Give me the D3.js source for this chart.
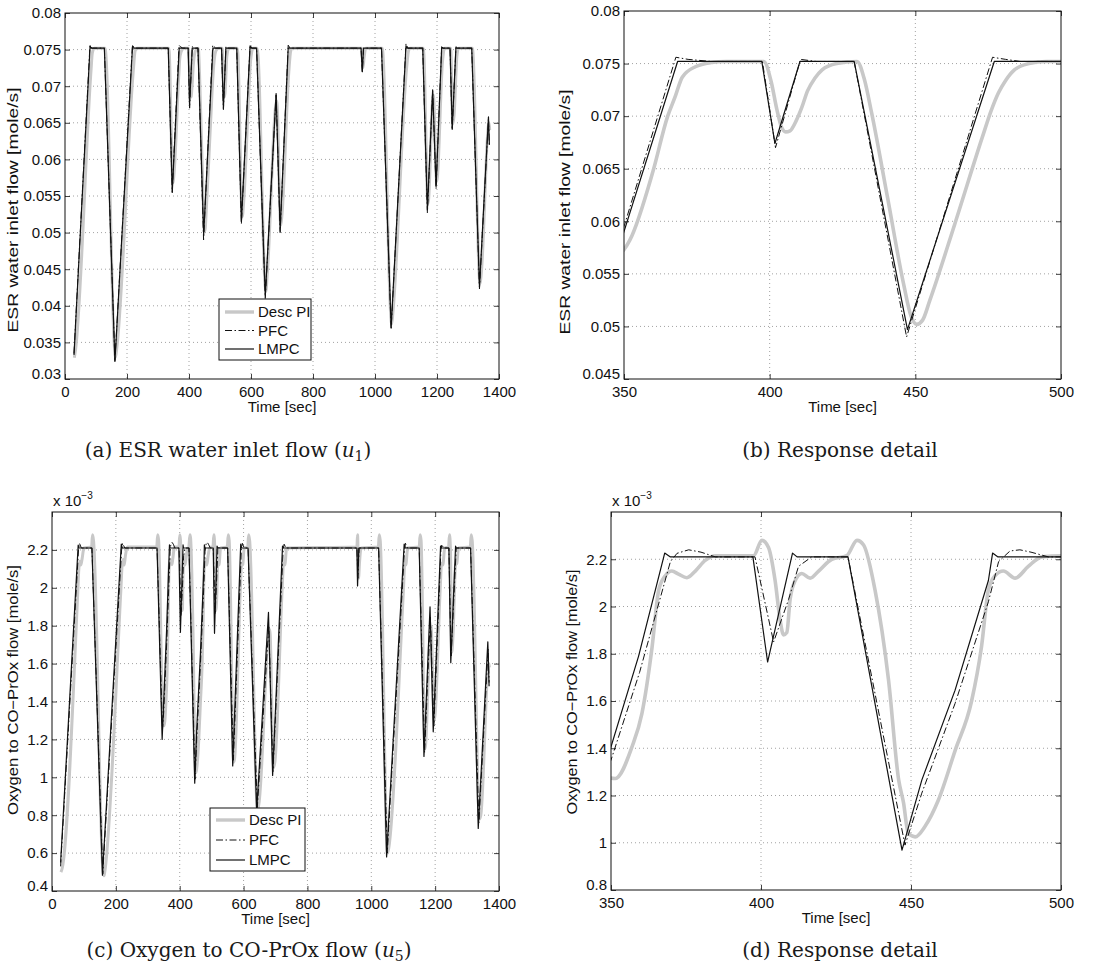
<!DOCTYPE html>
<html>
<head>
<meta charset="utf-8">
<script src="https://cdn.jsdelivr.net/npm/d3@7/dist/d3.min.js"></script>
<style>
  html, body { margin: 0; padding: 0; background: #fff; }
  svg { display: block; }
  .tick text { font-family: "Liberation Sans", Arial, sans-serif; font-size: 15px; fill: #111; }
</style>
</head>
<body>
<svg id="fig" width="1115" height="977"></svg>
<script>
// ---------- ESR water inlet flow u1 [mole/s] ----------
const u1DescPI = [
  [30,0.0329],[34,0.0340],[84,0.0722],[88,0.0745],[94,0.0752],[129,0.0752],[163,0.0330],[167,0.0342],
  [221,0.0725],[226,0.0748],[232,0.0752],[335,0.0752],[348,0.0568],[350,0.0573],[352,0.0582],[360,0.0648],
  [365,0.0700],[367.5,0.0718],[370,0.0737],[374.5,0.0747],[380,0.0751],[385,0.0752],[398,0.0752],
  [400.5,0.0733],[402.5,0.0706],[404,0.0690],[405.5,0.0685],[407,0.0686],[409,0.0695],[411,0.0708],
  [413,0.0724],[415.5,0.0736],[418,0.0744],[423,0.0750],[430,0.0752],[432.5,0.0735],[435,0.0703],
  [440.5,0.0622],[446,0.0540],[448.5,0.0510],[450.5,0.0502],[452.5,0.0506],[455,0.0525],[463.5,0.0597],
  [473,0.0680],[476,0.0705],[478.5,0.0722],[481,0.0734],[484,0.0744],[489,0.0750],[495,0.0752],
  [507,0.0752],[513,0.0685],[516,0.0690],[522,0.0740],[528,0.0752],[556,0.0752],[572,0.0522],[576,0.0540],
  [600,0.0740],[606,0.0752],[620,0.0752],[648,0.0420],[652,0.0440],[683,0.0680],[696,0.0510],[700,0.0525],
  [722,0.0720],[728,0.0748],[733,0.0752],[957,0.0752],[961,0.0725],[965,0.0740],[970,0.0752],[1023,0.0752],
  [1054,0.0375],[1058,0.0392],[1102,0.0725],[1108,0.0748],[1113,0.0752],[1156,0.0752],[1171,0.0540],
  [1188,0.0688],[1199,0.0570],[1218,0.0735],[1224,0.0752],[1244,0.0752],[1251,0.0648],[1255,0.0660],
  [1264,0.0740],[1269,0.0752],[1314,0.0752],[1339,0.0430],[1343,0.0445],[1368,0.0650],[1370,0.0640]
];
const u1PFC = [
  [29,0.0335],[80,0.0752],[81,0.0756],[86,0.0752],[127,0.0752],[161,0.0325],[217,0.0752],[218,0.0756],
  [224,0.0752],[333,0.0752],[346,0.0555],[350,0.0595],[367.8,0.0756],[372,0.0754],[380,0.0752],
  [397.5,0.0752],[402,0.0670],[410.6,0.0754],[416,0.0752],[429,0.0752],[447,0.0490],[476.5,0.0756],
  [481,0.0754],[486,0.0752],[505,0.0752],[511,0.0668],[519,0.0754],[524,0.0752],[554,0.0752],[569,0.0512],
  [597,0.0756],[603,0.0752],[618,0.0752],[646,0.0410],[681,0.0688],[694,0.0500],[720,0.0756],[726,0.0752],
  [955,0.0752],[959,0.0718],[963,0.0752],[1021,0.0752],[1052,0.0368],[1100,0.0758],[1106,0.0752],
  [1154,0.0752],[1169,0.0527],[1186,0.0693],[1197,0.0560],[1215,0.0754],[1220,0.0752],[1242,0.0752],
  [1249,0.0640],[1261,0.0754],[1266,0.0752],[1312,0.0752],[1337,0.0423],[1366,0.0656],[1369,0.0618]
];
const u1LMPC = [
  [29,0.0333],[81,0.0755],[84,0.0752],[127,0.0752],[161,0.0324],[218,0.0755],[221,0.0752],[333,0.0752],
  [346,0.0555],[368.4,0.0752],[397.3,0.0752],[401.8,0.0674],[410.4,0.0752],[429,0.0752],[447.3,0.0497],
  [477.1,0.0752],[505,0.0752],[511,0.0670],[519,0.0752],[554,0.0752],[569,0.0515],[597,0.0755],
  [600,0.0752],[618,0.0752],[646,0.0413],[681,0.0690],[694,0.0503],[720,0.0752],[955,0.0752],
  [959,0.0720],[963,0.0752],[1021,0.0752],[1052,0.0370],[1100,0.0755],[1103,0.0752],[1154,0.0752],
  [1169,0.0531],[1186,0.0695],[1197,0.0563],[1215,0.0752],[1242,0.0752],[1249,0.0642],[1261,0.0752],
  [1312,0.0752],[1337,0.0426],[1366,0.0658],[1369,0.0620]
];

// ---------- Oxygen to CO-PrOx flow u5 [x 10^-3 mole/s] ----------
const u5DescPI = [
  [28,0.50],[32,0.52],[80,1.95],[84,2.10],[87,2.14],[90,2.12],[94,2.15],[100,2.21],[124,2.215],[127,2.28],
  [130,2.25],[160,0.50],[163,0.48],[166,0.51],[216,2.0],[220,2.13],[223,2.15],[226,2.12],[230,2.17],
  [236,2.215],[328,2.215],[331,2.28],[334,2.25],[348,1.28],[351.4,1.272],[357,1.406],[360.3,1.547],
  [363.7,1.829],[365.9,2.069],[368.1,2.13],[370.3,2.15],[372.5,2.137],[375.3,2.122],[378.1,2.15],
  [381.4,2.195],[384.8,2.215],[397.5,2.215],[400.3,2.28],[402.5,2.25],[404.7,2.11],[406.4,1.94],
  [407.5,1.88],[408.6,1.89],[409.7,2.03],[411.4,2.11],[413.6,2.14],[416.4,2.12],[419.2,2.15],[423.6,2.20],
  [428.6,2.215],[432,2.28],[434.2,2.26],[438,2.07],[442.5,1.69],[445.9,1.265],[447.5,1.17],[449.1,1.04],
  [451.4,1.025],[454.7,1.07],[459.1,1.18],[464.7,1.39],[470.2,1.6],[473.5,1.83],[475.8,2.07],[478,2.13],
  [480.8,2.15],[484.7,2.12],[489.1,2.17],[493.6,2.21],[500,2.215],[504,2.215],[507,2.28],[510,2.2],
  [513,1.88],[516,1.95],[519,2.13],[523,2.12],[528,2.21],[549,2.215],[552,2.28],[555,2.25],[569,1.08],
  [572,1.10],[590,2.0],[594,2.13],[597,2.12],[602,2.21],[613,2.215],[616,2.28],[619,2.25],[644,0.83],
  [648,0.86],[682,1.78],[694,1.05],[698,1.08],[721,2.0],[725,2.13],[729,2.12],[735,2.21],[955,2.215],
  [957,2.28],[960,2.05],[963,2.13],[968,2.21],[1022,2.215],[1025,2.28],[1028,2.25],[1051,0.60],
  [1055,0.63],[1101,2.0],[1105,2.13],[1108,2.12],[1114,2.21],[1150,2.215],[1153,2.28],[1156,2.25],
  [1168,1.15],[1187,1.80],[1197,1.30],[1216,2.0],[1220,2.13],[1224,2.12],[1230,2.21],[1242,2.215],
  [1245,2.28],[1248,2.2],[1252,1.66],[1256,1.75],[1264,2.12],[1268,2.13],[1273,2.21],[1310,2.215],
  [1313,2.28],[1316,2.25],[1339,0.78],[1343,0.80],[1368,1.60],[1370,1.58]
];
const u5PFC = [
  [27,0.53],[83,2.20],[86,2.235],[92,2.21],[125,2.21],[159,0.49],[218,2.20],[221,2.235],[228,2.21],
  [329,2.21],[346,1.25],[350,1.35],[359.5,1.72],[369.8,2.19],[372,2.225],[375.9,2.24],[380,2.23],
  [384.8,2.21],[398,2.21],[404.2,1.85],[409.2,2.03],[412.5,2.17],[416.9,2.21],[429,2.21],[448,0.99],
  [453.6,1.21],[464.7,1.59],[475.8,2.02],[479.2,2.19],[483,2.235],[486.3,2.24],[490,2.23],[495.8,2.21],
  [505,2.21],[511,1.86],[520,2.22],[524,2.21],[550,2.21],[568,1.09],[593,2.20],[596,2.235],[602,2.21],
  [614,2.21],[643,0.84],[679,1.80],[692,1.03],[724,2.20],[727,2.23],[733,2.21],[955,2.21],[958,2.05],
  [962,2.21],[1023,2.21],[1050,0.60],[1104,2.20],[1107,2.235],[1113,2.21],[1150,2.21],[1167,1.13],
  [1185,1.85],[1196,1.27],[1218,2.20],[1221,2.23],[1226,2.21],[1243,2.21],[1250,1.64],[1266,2.21],
  [1311,2.21],[1337,0.76],[1366,1.68],[1369,1.50]
];
const u5LMPC = [
  [27,0.55],[82,2.225],[84,2.21],[125,2.21],[158,0.483],[217,2.23],[220,2.21],[329,2.21],[345,1.20],
  [350,1.406],[359.2,1.79],[367.9,2.226],[369.8,2.21],[397.3,2.21],[402.2,1.765],[410.5,2.226],[412,2.21],
  [429,2.21],[447,0.969],[453.6,1.265],[464.7,1.646],[475.8,2.11],[477.2,2.226],[479,2.21],[505,2.21],
  [509,1.76],[517,2.22],[519,2.21],[550,2.21],[566,1.06],[591,2.23],[594,2.21],[614,2.21],[641,0.82],
  [678,1.87],[691,1.01],[722,2.22],[725,2.21],[955,2.21],[957,2.01],[961,2.21],[1023,2.21],[1048,0.58],
  [1103,2.23],[1106,2.21],[1150,2.21],[1165,1.11],[1184,1.90],[1194,1.24],[1217,2.22],[1220,2.21],
  [1243,2.21],[1249,1.605],[1264,2.22],[1266,2.21],[1311,2.21],[1335,0.73],[1365,1.715],[1369,1.48]
];

// ---------- axes ticks ----------
const xTicksFull = [0,200,400,600,800,1000,1200,1400];
const xTicksDetail = [350,400,450,500];
const yTicksA = [0.03,0.035,0.04,0.045,0.05,0.055,0.06,0.065,0.07,0.075,0.08];
const yTicksB = [0.045,0.05,0.055,0.06,0.065,0.07,0.075,0.08];
const yTicksC = [0.4,0.6,0.8,1,1.2,1.4,1.6,1.8,2,2.2];
const yTicksD = [0.8,1,1.2,1.4,1.6,1.8,2,2.2];
const seriesNames = ["Desc PI","PFC","LMPC"];

const svg = d3.select("#fig");
svg.append("rect").attr("width",1115).attr("height",977).attr("fill","#fff");

const SANS = '"Liberation Sans", Arial, sans-serif';
const SERIF = '"DejaVu Serif", "Liberation Serif", serif';

const styles = [
  {stroke:"#c8c8c8", width:3.4, dash:null},
  {stroke:"#111", width:1.0, dash:"7,2.5,1.5,2.5"},
  {stroke:"#111", width:1.2, dash:null}
];

let clipId = 0;
function drawPanel(p) {
  const g = svg.append("g");
  const x = d3.scaleLinear().domain(p.xDomain).range([p.left, p.right]);
  const y = d3.scaleLinear().domain(p.yDomain).range([p.bottom, p.top]);

  // dotted grid
  const gridStyle = sel => sel.attr("stroke","#8a8a8a").attr("stroke-width",0.8).attr("stroke-dasharray","1,3");
  g.selectAll(".gx").data(p.xTicks.filter(v => v > p.xDomain[0] && v < p.xDomain[1])).join("line")
    .attr("x1", d => x(d)).attr("x2", d => x(d)).attr("y1", p.top).attr("y2", p.bottom).call(gridStyle);
  g.selectAll(".gy").data(p.yTicks.filter(v => v > p.yDomain[0] && v < p.yDomain[1])).join("line")
    .attr("y1", d => y(d)).attr("y2", d => y(d)).attr("x1", p.left).attr("x2", p.right).call(gridStyle);

  // data lines, clipped to the plot box
  const cid = "clip" + (clipId++);
  svg.append("clipPath").attr("id", cid).append("rect")
    .attr("x", p.left).attr("y", p.top).attr("width", p.right - p.left).attr("height", p.bottom - p.top);
  const lines = g.append("g").attr("clip-path", `url(#${cid})`);
  p.series.forEach((s, i) => {
    const st = styles[i];
    const line = d3.line().x(d => x(d[0])).y(d => y(d[1]))
      .curve(i === 0 ? d3.curveMonotoneX : d3.curveLinear);
    lines.append("path").datum(s).attr("d", line).attr("fill","none")
      .attr("stroke", st.stroke).attr("stroke-width", i === 0 ? p.piWidth : st.width)
      .attr("stroke-linejoin","round").attr("stroke-dasharray", st.dash);
  });

  // axes with inward ticks on all four sides
  const tl = 5;
  g.append("g").attr("transform",`translate(0,${p.bottom})`)
    .call(d3.axisBottom(x).tickValues(p.xTicks).tickSize(-tl).tickPadding(7).tickFormat(d3.format("d")));
  const ay = g.append("g").attr("transform",`translate(${p.left},0)`)
    .call(d3.axisLeft(y).tickValues(p.yTicks).tickSize(-tl).tickPadding(4).tickFormat(d => String(+d.toFixed(4))));
  // the lowest y label sits just above the corner so it clears the first x label
  ay.selectAll(".tick text").filter(d => d === p.yDomain[0]).attr("y", -5);
  g.append("g").attr("transform",`translate(0,${p.top})`)
    .call(d3.axisTop(x).tickValues(p.xTicks).tickSize(-tl).tickFormat(""));
  g.append("g").attr("transform",`translate(${p.right},0)`)
    .call(d3.axisRight(y).tickValues(p.yTicks).tickSize(-tl).tickFormat(""));
  g.selectAll(".domain").remove();
  g.selectAll(".tick line").attr("stroke","#111").attr("stroke-width",0.8);
  g.append("rect").attr("x",p.left).attr("y",p.top).attr("width",p.right-p.left).attr("height",p.bottom-p.top)
    .attr("fill","none").attr("stroke","#111").attr("stroke-width",1);

  // axis titles
  g.append("text").attr("x",(p.left+p.right)/2).attr("y",p.bottom+33)
    .attr("text-anchor","middle").attr("font-family",SANS).attr("font-size",15).attr("fill","#111")
    .text("Time [sec]");
  g.append("text").attr("transform",`translate(${p.ylabX},${p.ylabY}) rotate(-90)`)
    .attr("text-anchor","middle").attr("font-family",SANS).attr("font-size",15).attr("fill","#111")
    .attr("textLength",p.ylabLen).attr("lengthAdjust","spacingAndGlyphs")
    .text(p.ylabel);

  if (p.scaleNote) {
    const t = g.append("text").attr("x", p.left + 1).attr("y", p.top - 6)
      .attr("font-family",SANS).attr("font-size",15).attr("fill","#111");
    t.append("tspan").text("x 10");
    t.append("tspan").attr("dy",-7).attr("font-size",10).text("\u22123");
  }

  if (p.legend) {
    const L = p.legend;
    const lg = g.append("g");
    lg.append("rect").attr("x",L.x).attr("y",L.y).attr("width",L.w).attr("height",L.h)
      .attr("fill","#fff").attr("stroke","#111").attr("stroke-width",1);
    seriesNames.forEach((n, i) => {
      const yy = L.y + L.rowTop + i * L.row;
      const st = styles[i];
      lg.append("line").attr("x1",L.x+6).attr("x2",L.x+35).attr("y1",yy).attr("y2",yy)
        .attr("stroke",st.stroke).attr("stroke-width", i === 0 ? 3.4 : st.width).attr("stroke-dasharray",st.dash);
      lg.append("text").attr("x",L.x+39).attr("y",yy+5).attr("font-family",SANS).attr("font-size",15)
        .attr("fill","#111").text(n);
    });
  }

  // caption
  const c = svg.append("text").attr("x",p.capX).attr("y",p.capY).attr("text-anchor","middle")
    .attr("font-family",SERIF).attr("font-size",20).attr("fill","#1a1a1a");
  c.append("tspan").text(p.caption);
  if (p.capVar) {
    c.append("tspan").text("(");
    c.append("tspan").attr("font-style","italic").text("u");
    c.append("tspan").attr("font-size",14).attr("dy",4).text(p.capVar);
    c.append("tspan").attr("dy",-4).text(")");
  }
}

drawPanel({
  left:65, right:499, top:13, bottom:379, xDomain:[0,1400], yDomain:[0.03,0.08],
  xTicks:xTicksFull, yTicks:yTicksA, series:[u1DescPI,u1PFC,u1LMPC], piWidth:3,
  ylabel:"ESR water inlet flow [mole/s]", ylabX:18, ylabY:210, ylabLen:245,
  legend:{x:219,y:299,w:92,h:61,rowTop:13,row:18.5},
  caption:"(a) ESR water inlet flow ", capVar:"1", capX:228, capY:457
});
drawPanel({
  left:624, right:1061, top:11, bottom:379, xDomain:[350,500], yDomain:[0.045,0.08],
  xTicks:xTicksDetail, yTicks:yTicksB, series:[u1DescPI,u1PFC,u1LMPC], piWidth:3.6,
  ylabel:"ESR water inlet flow [mole/s]", ylabX:570, ylabY:212, ylabLen:245,
  caption:"(b) Response detail", capX:840, capY:457
});
drawPanel({
  left:52, right:499, top:512, bottom:891, xDomain:[0,1400], yDomain:[0.4,2.4],
  xTicks:xTicksFull, yTicks:yTicksC, series:[u5DescPI,u5PFC,u5LMPC], piWidth:3,
  ylabel:"Oxygen to CO\u2212PrOx flow [mole/s]", ylabX:18, ylabY:690, ylabLen:250, scaleNote:true,
  legend:{x:210,y:808,w:95,h:63,rowTop:12,row:20},
  caption:"(c) Oxygen to CO-PrOx flow ", capVar:"5", capX:249, capY:957
});
drawPanel({
  left:611, right:1061, top:512, bottom:890, xDomain:[350,500], yDomain:[0.8,2.4],
  xTicks:xTicksDetail, yTicks:yTicksD, series:[u5DescPI,u5PFC,u5LMPC], piWidth:3.6,
  ylabel:"Oxygen to CO\u2212PrOx flow [mole/s]", ylabX:577, ylabY:692, ylabLen:245, scaleNote:true,
  caption:"(d) Response detail", capX:840, capY:957
});
</script>
</body>
</html>
